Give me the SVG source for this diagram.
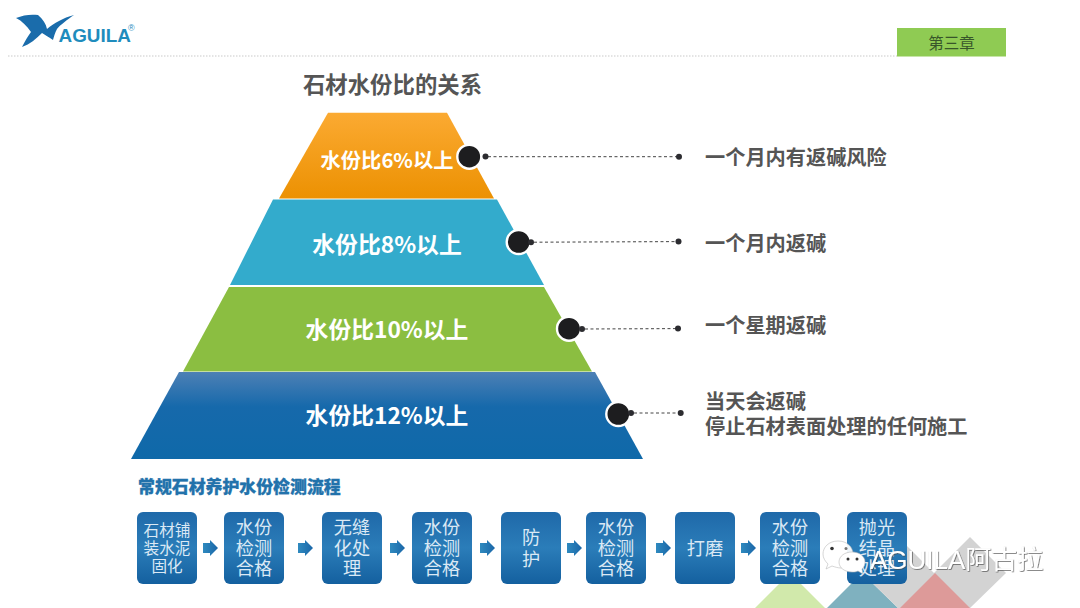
<svg xmlns="http://www.w3.org/2000/svg" width="1080" height="608" viewBox="0 0 1080 608">
<style>
text{font-family:"Noto Sans CJK SC","Noto Sans",sans-serif}
.label{font-size:20.2px;font-weight:700;fill:#555}
.tier{font-size:22.800px;font-weight:700;fill:#fff;text-anchor:middle}
.bt{font-weight:400;fill:#dbe9f5;text-anchor:middle;font-size:18.200px}
.sm{font-size:15.6px}
.box{fill:url(#boxG)}
.arrow{fill:url(#arrG)}
.dash{stroke:#444;stroke-width:1;stroke-dasharray:3 2.5;fill:none}
.big{fill:#1d1d1f;stroke:#fff;stroke-width:2.4}
.dot{fill:#2c2c30}
</style>
<defs>
<linearGradient id="orG" x1="0" y1="0" x2="0" y2="1"><stop offset="0" stop-color="#fbaa32"/><stop offset="1" stop-color="#ec9102"/></linearGradient>
<linearGradient id="dbG" x1="0" y1="0" x2="0" y2="1"><stop offset="0" stop-color="#4d80b5"/><stop offset=".4" stop-color="#1669ab"/><stop offset="1" stop-color="#0f69a9"/></linearGradient>
<linearGradient id="boxG" x1="0" y1="0" x2="0" y2="1"><stop offset="0" stop-color="#1f69a9"/><stop offset=".5" stop-color="#2b7db9"/><stop offset="1" stop-color="#14609f"/></linearGradient>
<linearGradient id="arrG" x1="0" y1="0" x2="1" y2="0"><stop offset="0" stop-color="#2f8abf"/><stop offset="1" stop-color="#1a66a8"/></linearGradient>
<filter id="wm" x="-5%" y="-20%" width="110%" height="140%"><feDropShadow dx="0.7" dy="0.7" stdDeviation="0.35" flood-color="#444" flood-opacity="0.9"/></filter>
</defs>
<rect width="1080" height="608" fill="#fff"/>

<g id="decor">
<polygon points="755,608 790,573 825,608" fill="#d1e9ab"/>
<polygon points="827,608 862,573 898,608" fill="#7fb1bf"/>
<polygon points="862,573 898,537 934,573 970,537 1006,573 970,608 898,608" fill="#d3d3d3"/>
<polygon points="900,608 935,573 970,608" fill="#dd9a99"/>
</g>

<g id="logo">
<path d="M16 18C23 15 31 14 38 15C43 19 46 24 47 29C54 23 63 18 74 15C67 20 60 25 57 29C55 33 54 36 53 40C49 37 45 35 42 33C36 39 30 44 22 47C25 41 28 36 31 32C27 26 22 21 16 18Z" fill="#1a6cab"/>
<text x="58.5" y="42" style="font-family:'Liberation Sans',sans-serif;font-size:18.900px;font-weight:700;fill:#1f8cbd">AGUILA</text>
<text x="128" y="31" style="font-family:'Liberation Sans',sans-serif;font-size:9px;fill:#1f8cbd">®</text>
</g>
<line id="rule" x1="8" y1="56" x2="897" y2="56" stroke="#c9c9c9" stroke-width="1" stroke-dasharray="1.5 1.5"/>
<g id="chapter">
<rect x="897" y="28" width="109" height="28.5" fill="#8fcb53"/>
<text x="951.5" y="48.5" text-anchor="middle" style="font-size:15.5px;fill:#38562a">第三章</text>
</g>

<text id="title" x="392.500" y="93" text-anchor="middle" style="font-size:22.400px;font-weight:700;fill:#555">石材水份比的关系</text>

<g id="tier1"><polygon points="328,112.700 447,112.700 494,198.500 279,198.500" fill="url(#orG)"/><text class="tier" x="387" y="168" style="font-size:20.300px">水份比6%以上</text></g>
<g id="tier2"><polygon points="273,199.500 497,199.500 544,285 230,285" fill="#33abcc"/><text class="tier" x="387" y="253">水份比8%以上</text></g>
<g id="tier3"><polygon points="229,287 544,287 592,371.500 183,371.500" fill="#8bbe41"/><text class="tier" x="387" y="338">水份比10%以上</text></g>
<g id="tier4"><polygon points="179,372 595,372 643,459 131,459" fill="url(#dbG)"/><text class="tier" x="387" y="424">水份比12%以上</text></g>

<g id="marker1"><circle class="big" cx="469.300" cy="156.700" r="12"/></g>
<g id="marker2"><circle class="big" cx="518.700" cy="242" r="12"/></g>
<g id="marker3"><circle class="big" cx="569" cy="328.700" r="12"/></g>
<g id="marker4"><circle class="big" cx="618.300" cy="414" r="12"/></g>

<g id="connectors">
<line class="dash" x1="488" y1="156.700" x2="679" y2="156.700"/>
<line class="dash" x1="534" y1="242.200" x2="678" y2="241.600"/>
<line class="dash" x1="585" y1="329" x2="678" y2="328.600"/>
<line class="dash" x1="634" y1="413" x2="680" y2="413"/>
<circle class="dot" cx="485.500" cy="156.500" r="3"/><circle class="dot" cx="679" cy="156.700" r="3"/>
<circle class="dot" cx="531" cy="242.300" r="3"/><circle class="dot" cx="678.500" cy="241.500" r="3"/>
<circle class="dot" cx="582" cy="329" r="3"/><circle class="dot" cx="678" cy="328.600" r="3"/>
<circle class="dot" cx="631" cy="413" r="3"/><circle class="dot" cx="680.700" cy="413" r="3"/>
<polygon class="arrow" points="203,543 210,543 210,540 218,548 210,556 210,553 203,553"/>
<polygon class="arrow" points="298,543 305,543 305,540 313,548 305,556 305,553 298,553"/>
<polygon class="arrow" points="390,543 397,543 397,540 405,548 397,556 397,553 390,553"/>
<polygon class="arrow" points="480,543 487,543 487,540 495,548 487,556 487,553 480,553"/>
<polygon class="arrow" points="567,543 574,543 574,540 582,548 574,556 574,553 567,553"/>
<polygon class="arrow" points="656,543 663,543 663,540 671,548 663,556 663,553 656,553"/>
<polygon class="arrow" points="741,543 748,543 748,540 756,548 748,556 748,553 741,553"/>
</g>

<g id="label1"><text class="label" x="705" y="164.500">一个月内有返碱风险</text></g>
<g id="label2"><text class="label" x="705" y="251">一个月内返碱</text></g>
<g id="label3"><text class="label" x="705" y="333">一个星期返碱</text></g>
<g id="label4"><text class="label" x="705" y="408.500">当天会返碱</text><text class="label" x="705" y="433.500">停止石材表面处理的任何施工</text></g>

<text id="flow-title" x="138" y="493" style="font-size:16.900px;font-weight:900;fill:#2272ab;stroke:#2272ab;stroke-width:.3">常规石材养护水份检测流程</text>

<g id="step1"><rect class="box" x="137" y="512" width="60" height="72" rx="6"/><text class="bt sm" x="167" y="535.500">石材铺</text><text class="bt sm" x="167" y="553.500">装水泥</text><text class="bt sm" x="167" y="572">固化</text></g>
<g id="step2"><rect class="box" x="224" y="512" width="60" height="72" rx="6"/><text class="bt" x="254" y="533.500">水份</text><text class="bt" x="254" y="554.500">检测</text><text class="bt" x="254" y="575">合格</text></g>
<g id="step3"><rect class="box" x="322" y="512" width="60" height="72" rx="6"/><text class="bt" x="352" y="533.500">无缝</text><text class="bt" x="352" y="554.500">化处</text><text class="bt" x="352" y="575">理</text></g>
<g id="step4"><rect class="box" x="412" y="512" width="60" height="72" rx="6"/><text class="bt" x="442" y="533.500">水份</text><text class="bt" x="442" y="554.500">检测</text><text class="bt" x="442" y="575">合格</text></g>
<g id="step5"><rect class="box" x="501" y="512" width="60" height="72" rx="6"/><text class="bt" x="531" y="543.500">防</text><text class="bt" x="531" y="566">护</text></g>
<g id="step6"><rect class="box" x="586" y="512" width="60" height="72" rx="6"/><text class="bt" x="616" y="533.500">水份</text><text class="bt" x="616" y="554.500">检测</text><text class="bt" x="616" y="575">合格</text></g>
<g id="step7"><rect class="box" x="675" y="512" width="60" height="72" rx="6"/><text class="bt" x="705" y="555">打磨</text></g>
<g id="step8"><rect class="box" x="760" y="512" width="60" height="72" rx="6"/><text class="bt" x="790" y="533.500">水份</text><text class="bt" x="790" y="554.500">检测</text><text class="bt" x="790" y="575">合格</text></g>
<g id="step9"><rect class="box" x="847" y="512" width="60" height="72" rx="6"/><text class="bt" x="877" y="533.500">抛光</text><text class="bt" x="877" y="554.500">结晶</text><text class="bt" x="877" y="575">处理</text></g>

<g id="watermark">
<path d="M838 541C829 541 823 547 823 554C823 558 825 561 828 564L826 569L832 566C835 567 838 568 841 568C852 568 853 560 853 554C853 547 847 541 838 541Z" fill="#fff" fill-opacity=".92" stroke="#bbb" stroke-width=".6"/>
<circle cx="832" cy="548.500" r="1.800" fill="#333"/><circle cx="846" cy="548.500" r="1.500" fill="#777"/>
<path d="M852 552C845 552 839 556 839 562C839 568 845 572 852 572C854 572 856 572 858 571L863 574L862 569C864 567 865 565 865 562C865 556 859 552 852 552Z" fill="#fff" stroke="#bbb" stroke-width=".6"/>
<circle cx="848" cy="559" r="1.500" fill="#333"/><circle cx="857" cy="559" r="1.500" fill="#333"/>
<text x="870" y="569" filter="url(#wm)" style="font-size:26px;fill:#fff;font-family:'Liberation Sans','Noto Sans CJK SC',sans-serif">AGUILA阿古拉</text>
</g>
</svg>
